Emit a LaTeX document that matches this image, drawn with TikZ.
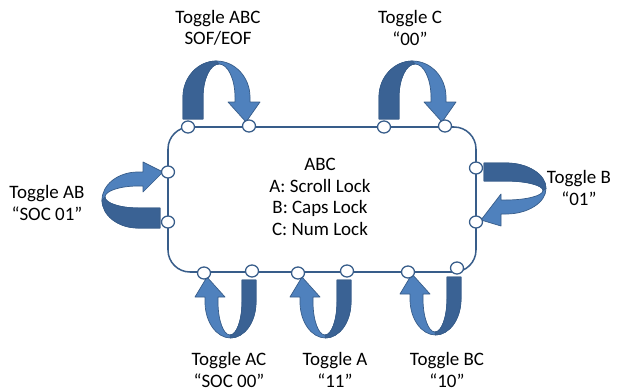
\documentclass[tikz,border=0pt]{standalone}
\usepackage{fontspec}
\setmainfont{Carlito}
\usetikzlibrary{shapes.geometric}
\definecolor{edgeblue}{RGB}{56,93,138}
\definecolor{liteblue}{RGB}{79,129,189}
\definecolor{darkblue}{RGB}{58,98,148}
\tikzset{
  port/.style={ellipse, draw=edgeblue, fill=white, line width=1.1pt, minimum width=13*0.03cm, minimum height=12*0.03cm, inner sep=0pt},
  lbl/.style={align=center, font=\fontsize{16.2}{18.4}\selectfont, text=black, inner sep=0pt},
  ribbonlite/.style={fill=liteblue, draw=edgeblue, line width=0.6pt, line join=round},
  ribbondark/.style={fill=darkblue, draw=edgeblue, line width=0.6pt, line join=round}
}
% #1 scope options, #2 dark leg outer, #3 dark leg inner, #4 light leg inner, #5 light leg outer,
% #6 height, #7 head base left, #8 head base right, #9 tip
\newcommand{\ribbonarrow}[9]{%
\begin{scope}[#1]
 \pgfmathsetmacro\rxt{(#2+#5)/2}
 \pgfmathsetmacro\rhs{(#5-#2)/2}
 \pgfmathsetmacro\rxi{(#3+#4)/2}
 \pgfmathsetmacro\rhi{(#4-#3)/2}
 \path[ribbonlite]
   (#2,-8) -- (#2,-30) .. controls (#2,{-30-0.55*(#6-30)}) and ({\rxt-0.55*\rhs},{-#6}) .. (\rxt,{-#6})
   .. controls ({\rxt+0.55*\rhs},{-#6}) and (#5,{-30-0.55*(#6-30)}) .. (#5,-30) -- (#5,-25)
   -- (#8,-25) -- (#9,-5) -- (#7,-25) -- (#4,-25) -- (#4,-30)
   .. controls (#4,{-30-0.55*(#6-33)}) and ({\rxi+0.55*\rhi},{-#6+3}) .. (\rxi,{-#6+3})
   .. controls ({\rxi-0.55*\rhi},{-#6+3}) and (#3,{-30-0.55*(#6-33)}) .. (#3,-30) -- (#3,-8) -- cycle;
 \path[ribbondark]
   (#2,-8) -- (#2,-30) .. controls (#2,{-30-0.55*(#6-30)}) and ({\rxt-0.55*\rhs},{-#6}) .. (\rxt,{-#6})
   -- (\rxi,{-#6+3})
   .. controls ({\rxi-0.55*\rhi},{-#6+3}) and (#3,{-30-0.55*(#6-33)}) .. (#3,-30) -- (#3,-8) -- cycle;
\end{scope}}
\begin{document}
\begin{tikzpicture}[x=0.03cm,y=-0.03cm]
\useasboundingbox (0,0) rectangle (633,392);
% state box
\draw[edgeblue, line width=1.3pt, rounded corners=0.66cm] (168,127) rectangle (476,272);
\node[lbl] (state) at (320,197) {ABC\\A: Scroll Lock\\B: Caps Lock\\C: Num Lock};
% arrows
\ribbonarrow{shift={(188,127)}}{-5}{15}{47}{62}{66}{40}{72}{58}
\ribbonarrow{shift={(384,127)}}{-5}{15}{47}{62}{66}{40}{72}{58}
\ribbonarrow{shift={(168,222)},rotate=90}{-6}{14}{36}{50}{66}{30}{60}{50}
\ribbonarrow{shift={(476,168)},rotate=-90}{-5}{13}{32}{46}{70}{26}{58}{52}
\ribbonarrow{shift={(252,272)},rotate=180}{-4}{10}{34}{47}{66}{27}{57}{45}
\ribbonarrow{shift={(347,272)},rotate=180}{-4}{10}{34}{47}{66}{27}{57}{45}
\ribbonarrow{shift={(457,269)},rotate=180}{-4}{10}{34}{47}{66}{27}{57}{45}
% ports
\node[port] (t1) at (188,127) {};
\node[port] (t2) at (249,126) {};
\node[port] (t3) at (384,127) {};
\node[port] (t4) at (445,126) {};
\node[port] (l1) at (168,172) {};
\node[port] (l2) at (168,222) {};
\node[port] (r1) at (476,168) {};
\node[port] (r2) at (476,222) {};
\node[port] (b1) at (204,273) {};
\node[port] (b2) at (252,271) {};
\node[port] (b3) at (298,273) {};
\node[port] (b4) at (347,271) {};
\node[port] (b5) at (408,272) {};
\node[port] (b6) at (457,268) {};
% labels
\node[lbl] (labc) at (218,28) {Toggle ABC\\SOF/EOF};
\node[lbl] (lc) at (410,28) {Toggle C\\“00”};
\node[lbl] (lab) at (47,203) {Toggle AB\\“SOC 01”};
\node[lbl] (lb) at (579,188) {Toggle B\\“01”};
\node[lbl] (lac) at (229,370) {Toggle AC\\“SOC 00”};
\node[lbl] (la) at (335,370) {Toggle A\\“11”};
\node[lbl] (lbc) at (447,370) {Toggle BC\\“10”};
\end{tikzpicture}
\end{document}
